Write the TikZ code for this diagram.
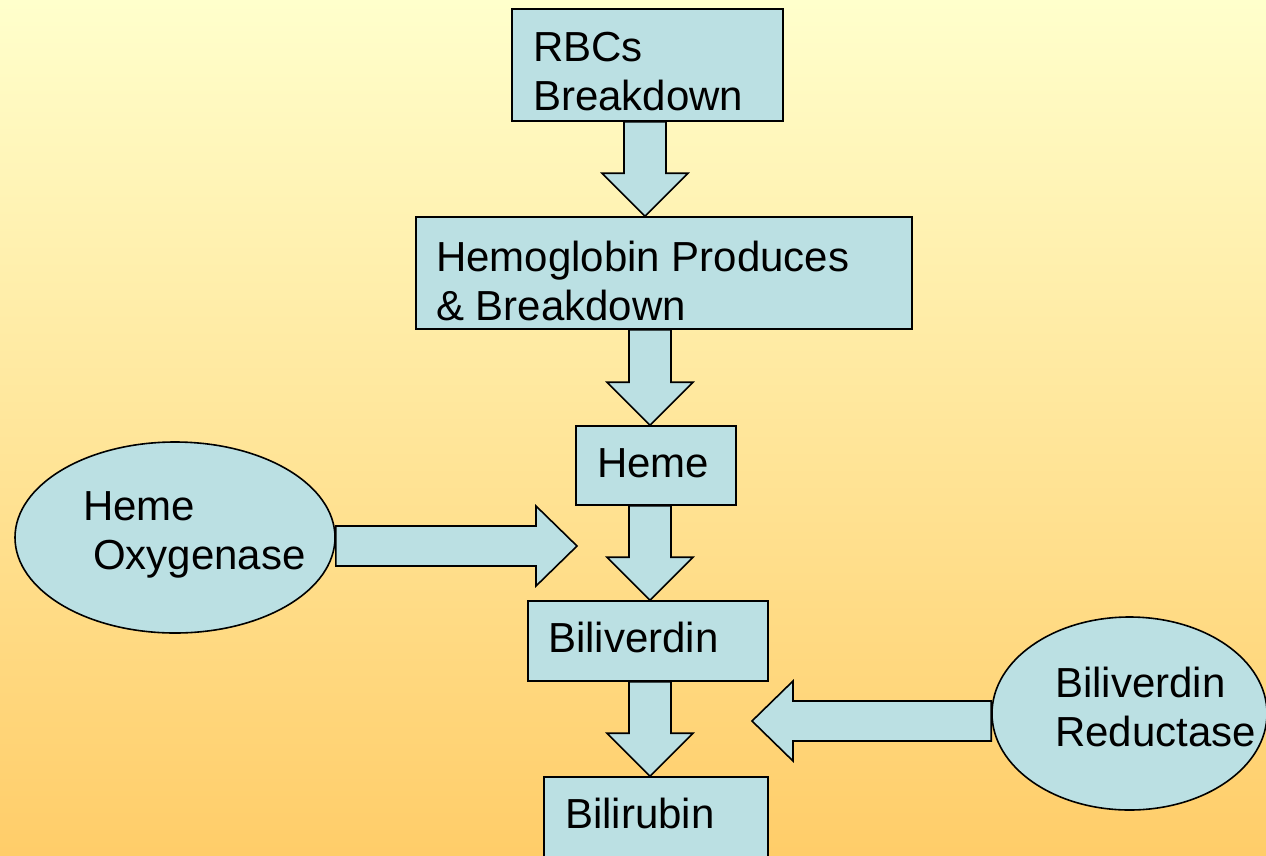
\documentclass[tikz,border=0pt]{standalone}
\usepackage{fontspec}
\setmainfont{Liberation Sans}
\usetikzlibrary{calc,shapes.geometric}
\definecolor{bgtop}{RGB}{255,255,204}
\definecolor{bgbot}{RGB}{255,205,105}
\definecolor{boxfill}{RGB}{187,224,227}
\tikzset{
  boxnode/.style={draw=black, fill=boxfill, line width=1.6pt, rectangle, inner sep=0pt},
  ovalnode/.style={draw=black, fill=boxfill, line width=1.6pt, ellipse, inner sep=0pt},
  txt/.style={anchor=north west, inner sep=0pt, align=left, font=\fontsize{42}{49}\selectfont},
  blk/.style={draw=black, fill=boxfill, line width=1.6pt, line join=miter},
}
% vertical block arrow: #1 start (top), #2 tip (bottom)
\newcommand\blkdown[2]{%
  \draw[blk] let \p1=#1, \p2=#2 in
    (\x1-21pt,\y1) -- (\x1+21pt,\y1) -- (\x1+21pt,\y2+43pt) -- (\x1+43pt,\y2+43pt)
    -- (\x1,\y2) -- (\x1-43pt,\y2+43pt) -- (\x1-21pt,\y2+43pt) -- cycle;}
% horizontal block arrow: #1 start, #2 tip (same y)
\newcommand\blkhor[3]{% #3 = +1 right, -1 left
  \draw[blk] let \p1=#1, \p2=#2 in
    (\x1,\y1+20pt) -- (\x2-#3*41pt,\y1+20pt) -- (\x2-#3*41pt,\y1+40pt) -- (\x2,\y1)
    -- (\x2-#3*41pt,\y1-40pt) -- (\x2-#3*41pt,\y1-20pt) -- (\x1,\y1-20pt) -- cycle;}
\begin{document}
\begin{tikzpicture}[x=1pt,y=-1pt]
\useasboundingbox (0,0) rectangle (1266,855);
\clip (0,0) rectangle (1266,855);
\shade[top color=bgtop, bottom color=bgbot] (0,0) rectangle (1266,855);

% boxes
\node[boxnode, minimum width=271pt, minimum height=112pt] (rbc) at (647.5,65) {};
\node[boxnode, minimum width=496pt, minimum height=112pt] (hgb) at (664,273) {};
\node[boxnode, minimum width=160pt, minimum height=79pt] (heme) at (656,465.5) {};
\node[boxnode, minimum width=240pt, minimum height=80pt] (bv) at (648,641) {};
\node[boxnode, minimum width=224pt, minimum height=110pt] (br) at (656,832) {};
\node[ovalnode, minimum width=320pt, minimum height=191pt] (ho) at (175,537.5) {};
\node[ovalnode, minimum width=275pt, minimum height=193pt] (bvr) at (1129.5,713.5) {};

% texts
\node[txt] (trbc) at (533,32) {RBCs\\Breakdown};
\node[txt] (thgb) at (436,241) {Hemoglobin Produces\\\& Breakdown};
\node[txt] (theme) at (597,448) {Heme};
\node[txt] (tbv) at (548,622) {Biliverdin};
\node[txt] (tbr) at (565,798) {Bilirubin};
\node[txt] (tho) at (83,491) {Heme\\\hspace*{10pt}Oxygenase};
\node[txt] (tbvr) at (1055,667) {Biliverdin\\Reductase};

% vertical block arrows
\coordinate (c1) at (645,0);
\coordinate (c2) at (650,0);
\blkdown{(c1 |- rbc.south)}{(c1 |- hgb.north)}
\blkdown{(c2 |- hgb.south)}{(c2 |- heme.north)}
\blkdown{(c2 |- heme.south)}{(c2 |- bv.north)}
\blkdown{(c2 |- bv.south)}{(c2 |- br.north)}

% horizontal block arrows
\coordinate (hotip) at (577,546);
\coordinate (bvrtip) at (752,721);
\blkhor{(ho.east |- hotip)}{(hotip)}{1}
\blkhor{(bvr.west |- bvrtip)}{(bvrtip)}{-1}
\end{tikzpicture}
\end{document}
